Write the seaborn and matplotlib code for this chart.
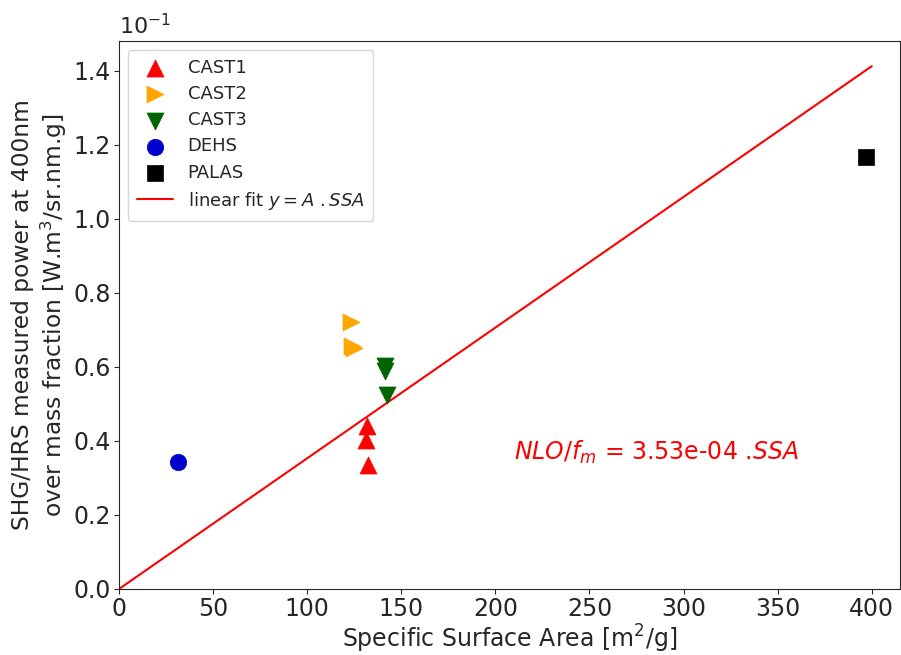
import numpy as np
import pandas as pd
import matplotlib
matplotlib.use("Agg")
import matplotlib.pyplot as plt
import seaborn as sns

# valeurs (SSA en m2/g, puissance en unités brutes)
cast1_ssa = [132.0, 131.0, 132.5]
cast1_nlo = [0.0440, 0.0402, 0.0334]
cast2_ssa = [123.5, 124.0, 125.0]
cast2_nlo = [0.0721, 0.0657, 0.0650]
cast3_ssa = [141.3, 141.3, 142.4]
cast3_nlo = [0.0603, 0.0588, 0.0524]
dehs_ssa = [31.3]
dehs_nlo = [0.0343]
palas_ssa = [396.8]
palas_nlo = [0.1166]

fit_slope = 3.53e-04
fit_x = [0, 400]

groups = [
    ("CAST1", cast1_ssa, cast1_nlo, "red", "^", 150),
    ("CAST2", cast2_ssa, cast2_nlo, "orange", ">", 150),
    ("CAST3", cast3_ssa, cast3_nlo, "darkgreen", "v", 150),
    ("DEHS", dehs_ssa, dehs_nlo, "mediumblue", "o", 140),
    ("PALAS", palas_ssa, palas_nlo, "black", "s", 120),
]

sns.set_style("ticks")
plt.rcParams['font.family'] = ['DejaVu Sans']
plt.rcParams['mathtext.fontset'] = 'dejavusans'

fig = plt.figure(figsize=(9.01, 6.55), dpi=100)
ax = fig.add_axes([119 / 901, 1 - 589 / 655, (900 - 119) / 901, (589 - 41) / 655])

for name, xs, ys, col, mk, sz in groups:
    df = pd.DataFrame({"ssa": xs, "nlo": ys})
    sns.scatterplot(data=df, x="ssa", y="nlo", color=col, marker=mk, s=sz,
                    edgecolor=col, linewidth=0.5, label=name, ax=ax, zorder=3)

fit_df = pd.DataFrame({"ssa": fit_x, "nlo": [fit_slope * v for v in fit_x]})
sns.lineplot(data=fit_df, x="ssa", y="nlo", color="red", linewidth=1.5,
             label=r"linear fit $y = A\ .SSA$", ax=ax)

ax.set_xlim(0, 415)
ax.set_ylim(0, 0.148)
ax.set_xticks(np.arange(0, 401, 50))
ax.set_yticks(np.arange(0, 0.141, 0.02))
ax.set_yticklabels([f"{v * 10:.1f}" for v in np.arange(0, 0.141, 0.02)])
ax.tick_params(labelsize=17, pad=2.5)
ax.text(0, 1.005, r"$10^{-1}$", transform=ax.transAxes, fontsize=16,
        ha="left", va="bottom")

ax.set_xlabel(r"Specific Surface Area [m$^2$/g]", fontsize=17, labelpad=1)
ax.set_ylabel("SHG/HRS measured power at 400nm\n" + r"over mass fraction [W.m$^3$/sr.nm.g]",
              fontsize=16.8, labelpad=3)

ax.text(210, 0.037, r"$NLO/f_m$ = 3.53e-04 .$SSA$", color="red", fontsize=17,
        va="center", ha="left")

leg = ax.legend(loc="upper left", fontsize=13, frameon=True, markerscale=1.0,
                borderpad=0.5, labelspacing=0.45)

fig.savefig("out.png", dpi=100)
